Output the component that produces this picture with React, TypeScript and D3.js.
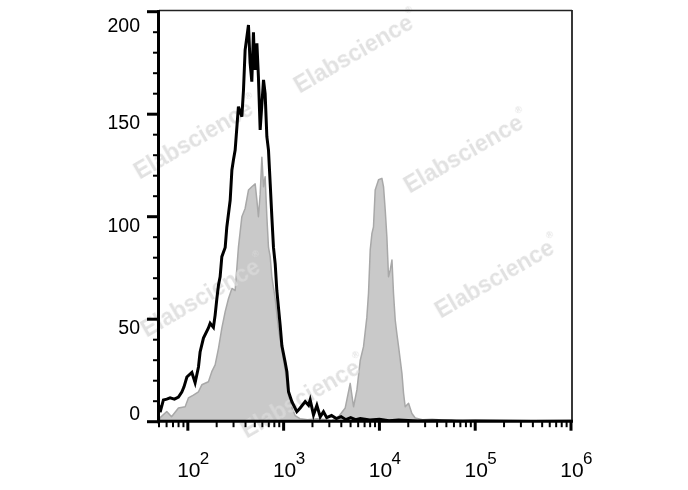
import React from "react";
import * as d3 from "d3";

// ---- data (log10 of fluorescence intensity, event count) ----
const blackLogX = [1.70, 1.711, 1.745, 1.78, 1.815, 1.86, 1.902, 1.937, 1.96, 1.99, 2.042, 2.076, 2.111, 2.128, 2.163, 2.215, 2.233, 2.267, 2.285, 2.303, 2.32, 2.337, 2.355, 2.39, 2.407, 2.442, 2.46, 2.476, 2.494, 2.528, 2.564, 2.581, 2.598, 2.633, 2.65, 2.668, 2.685, 2.695, 2.703, 2.721, 2.737, 2.755, 2.79, 2.807, 2.825, 2.842, 2.86, 2.877, 2.894, 2.912, 2.929, 2.964, 2.982, 3.016, 3.034, 3.051, 3.086, 3.138, 3.173, 3.225, 3.26, 3.277, 3.312, 3.347, 3.382, 3.416, 3.45, 3.5, 3.55, 3.6, 3.65, 3.7, 3.75, 3.8, 3.9, 4.0, 4.1, 4.2, 4.4, 4.6, 4.8, 5.0, 5.3, 5.6, 6.0];
const blackCounts = [8, 4.7, 10.6, 11, 11.6, 11, 12, 14.5, 17, 21.8, 24, 19, 26.7, 34, 40.8, 45.7, 48, 46, 52, 60, 66.7, 70.7, 80.5, 85, 95, 108, 122.8, 127.7, 132.5, 153.7, 148.8, 161.8, 181.3, 193.5, 175, 165.9, 190, 176, 171.6, 184.6, 168, 142.3, 166.7, 160, 139, 132.5, 116, 100, 85, 77, 64, 47, 37, 29, 24.4, 14.6, 9.8, 4.9, 6.7, 9.8, 8, 10.6, 3.3, 8, 2.4, 4.9, 2, 3, 1.5, 2.5, 1, 2, 1, 1.5, 0.8, 1.2, 0.5, 0.8, 0.3, 0.5, 0.2, 0.3, 0.2, 0.1, 0.2];

const grayLogX = [1.70, 1.711, 1.78, 1.83, 1.902, 1.972, 2.006, 2.058, 2.111, 2.146, 2.215, 2.25, 2.285, 2.32, 2.355, 2.39, 2.424, 2.46, 2.494, 2.528, 2.564, 2.598, 2.633, 2.668, 2.703, 2.721, 2.737, 2.755, 2.773, 2.79, 2.807, 2.825, 2.842, 2.86, 2.877, 2.912, 2.947, 2.982, 3.016, 3.051, 3.086, 3.12, 3.17, 3.25, 3.35, 3.45, 3.5, 3.573, 3.643, 3.695, 3.73, 3.765, 3.8, 3.834, 3.869, 3.886, 3.904, 3.922, 3.938, 3.956, 3.991, 4.026, 4.043, 4.061, 4.078, 4.095, 4.113, 4.131, 4.147, 4.165, 4.182, 4.2, 4.235, 4.252, 4.269, 4.304, 4.339, 4.374, 4.45, 4.55, 4.65, 4.75, 4.9, 5.1, 5.5, 5.8, 6.0];
const grayCounts = [0, 2, 5, 2.4, 6.7, 7.3, 11.6, 13, 14.6, 18, 19.5, 24.4, 27.7, 35.8, 45.6, 53.7, 60, 65, 64, 85, 100, 104, 113, 114.6, 116, 108, 100, 111, 129, 114.6, 119.5, 100, 85, 80.5, 70.7, 60, 45, 35, 25, 13, 7, 3, 1.5, 1, 1.5, 1, 0.5, 2.4, 6.7, 18.7, 7.3, 15.5, 30, 36.6, 51, 62.6, 83.8, 91.9, 95, 113, 118, 118.7, 114.6, 103, 90, 70.7, 74, 78.9, 62.6, 49.6, 43, 36.6, 23.6, 13.8, 7.3, 9, 4, 1.8, 1, 1.2, 0.8, 1, 0.3, 0.2, 0.5, 0.2, 0];

const yTicks = [0, 50, 100, 150, 200];
const xDecades = [2, 3, 4, 5, 6];
const watermarkCenters: [number, number][] = [
  [356, 52], [196, 138], [466, 152], [497, 277], [203, 296], [303, 397],
];

const W = 688;
const H = 490;
const L = 159, R = 572, T = 11.7, B = 421.7;

export default function App() {
  const x = d3.scaleLog().domain([50, 1e6]).range([L, R - 1]);
  const y = d3.scaleLinear().domain([0, 200]).range([B, T]);

  const black = blackLogX.map((v, i) => [Math.pow(10, v), blackCounts[i]] as [number, number]);
  const gray = grayLogX.map((v, i) => [Math.pow(10, v), grayCounts[i]] as [number, number]);

  const line = d3.line<[number, number]>().x((d) => x(d[0])).y((d) => y(d[1]));
  const area = d3
    .area<[number, number]>()
    .x((d) => x(d[0]))
    .y0(y(0))
    .y1((d) => y(d[1]));

  const minorX: number[] = [];
  for (let dcd = 1; dcd <= 5; dcd++) {
    for (let k = 2; k <= 9; k++) {
      const v = k * Math.pow(10, dcd);
      if (v >= 50 && v <= 1e6) minorX.push(v);
    }
  }
  const minorY = d3.range(0, 201, 10).filter((v) => v % 50 !== 0);

  const font = "'Liberation Sans', Arial, Helvetica, sans-serif";

  return (
    <svg width={W} height={H} style={{ position: "absolute", left: 0, top: 0, background: "#fff" }}>
      <defs>
        <clipPath id="plot">
          <rect x={L} y={T - 2} width={R - L} height={B - T + 2} />
        </clipPath>
      </defs>
      <rect x={0} y={0} width={W} height={H} fill="#fff" />
      <g clipPath="url(#plot)">
        <path d={area(gray) || ""} fill="#c9c9c9" stroke="#a8a8a8" strokeWidth={1.5} strokeLinejoin="round" />
      </g>
      {/* watermarks */}
      <g fontFamily={font} fontWeight="bold" fontSize={23} fill="#dadada" opacity={0.8}>
        {watermarkCenters.map(([cx, cy], i) => (
          <g key={i} transform={`translate(${cx},${cy}) rotate(-30)`}>
            <text textAnchor="middle" dominantBaseline="central">
              Elabscience
              <tspan fontSize={9} dy={-10}>®</tspan>
            </text>
          </g>
        ))}
      </g>
      <g clipPath="url(#plot)">
        <path d={line(black) || ""} fill="none" stroke="#000" strokeWidth={3} strokeLinejoin="miter" strokeMiterlimit={4} />
      </g>
      {/* frame */}
      <line x1={L} x2={R} y1={10.5} y2={10.5} stroke="#222" strokeWidth={1.6} />
      <line x1={R} x2={R} y1={10} y2={B} stroke="#222" strokeWidth={1.8} />
      {/* y axis */}
      <line x1={158.5} x2={158.5} y1={10} y2={B + 1.5} stroke="#000" strokeWidth={3} />
      {minorY.map((v) => (
        <line key={"my" + v} x1={153} x2={158} y1={y(v)} y2={y(v)} stroke="#000" strokeWidth={2} />
      ))}
      {yTicks.map((v) => (
        <line key={"yt" + v} x1={147} x2={158} y1={y(v)} y2={y(v)} stroke="#000" strokeWidth={3} />
      ))}
      {yTicks.map((v) => (
        <text
          key={"yl" + v}
          x={140}
          y={Math.min(Math.max(y(v) + 8, 25), 413)}
          textAnchor="end"
          dominantBaseline="central"
          fontFamily={font}
          fontSize={19.5}
          fill="#000"
        >
          {v}
        </text>
      ))}
      {/* x axis */}
      <line x1={157} x2={R + 1} y1={B - 0.5} y2={B - 0.5} stroke="#000" strokeWidth={3} />
      {minorX.map((v) => (
        <line key={"mx" + v} x1={x(v)} x2={x(v)} y1={B} y2={B + 5.5} stroke="#000" strokeWidth={2} />
      ))}
      {xDecades.map((d) => (
        <line key={"xt" + d} x1={x(Math.pow(10, d))} x2={x(Math.pow(10, d))} y1={B} y2={B + 9} stroke="#000" strokeWidth={3} />
      ))}
      {xDecades.map((d) => {
        const px = x(Math.pow(10, d));
        return (
          <g key={"xl" + d} fontFamily={font} fill="#000">
            <text x={px + 1} y={477} textAnchor="middle" fontSize={21}>
              10
            </text>
            <text x={px + 12} y={464} textAnchor="start" fontSize={17}>
              {d}
            </text>
          </g>
        );
      })}
    </svg>
  );
}
